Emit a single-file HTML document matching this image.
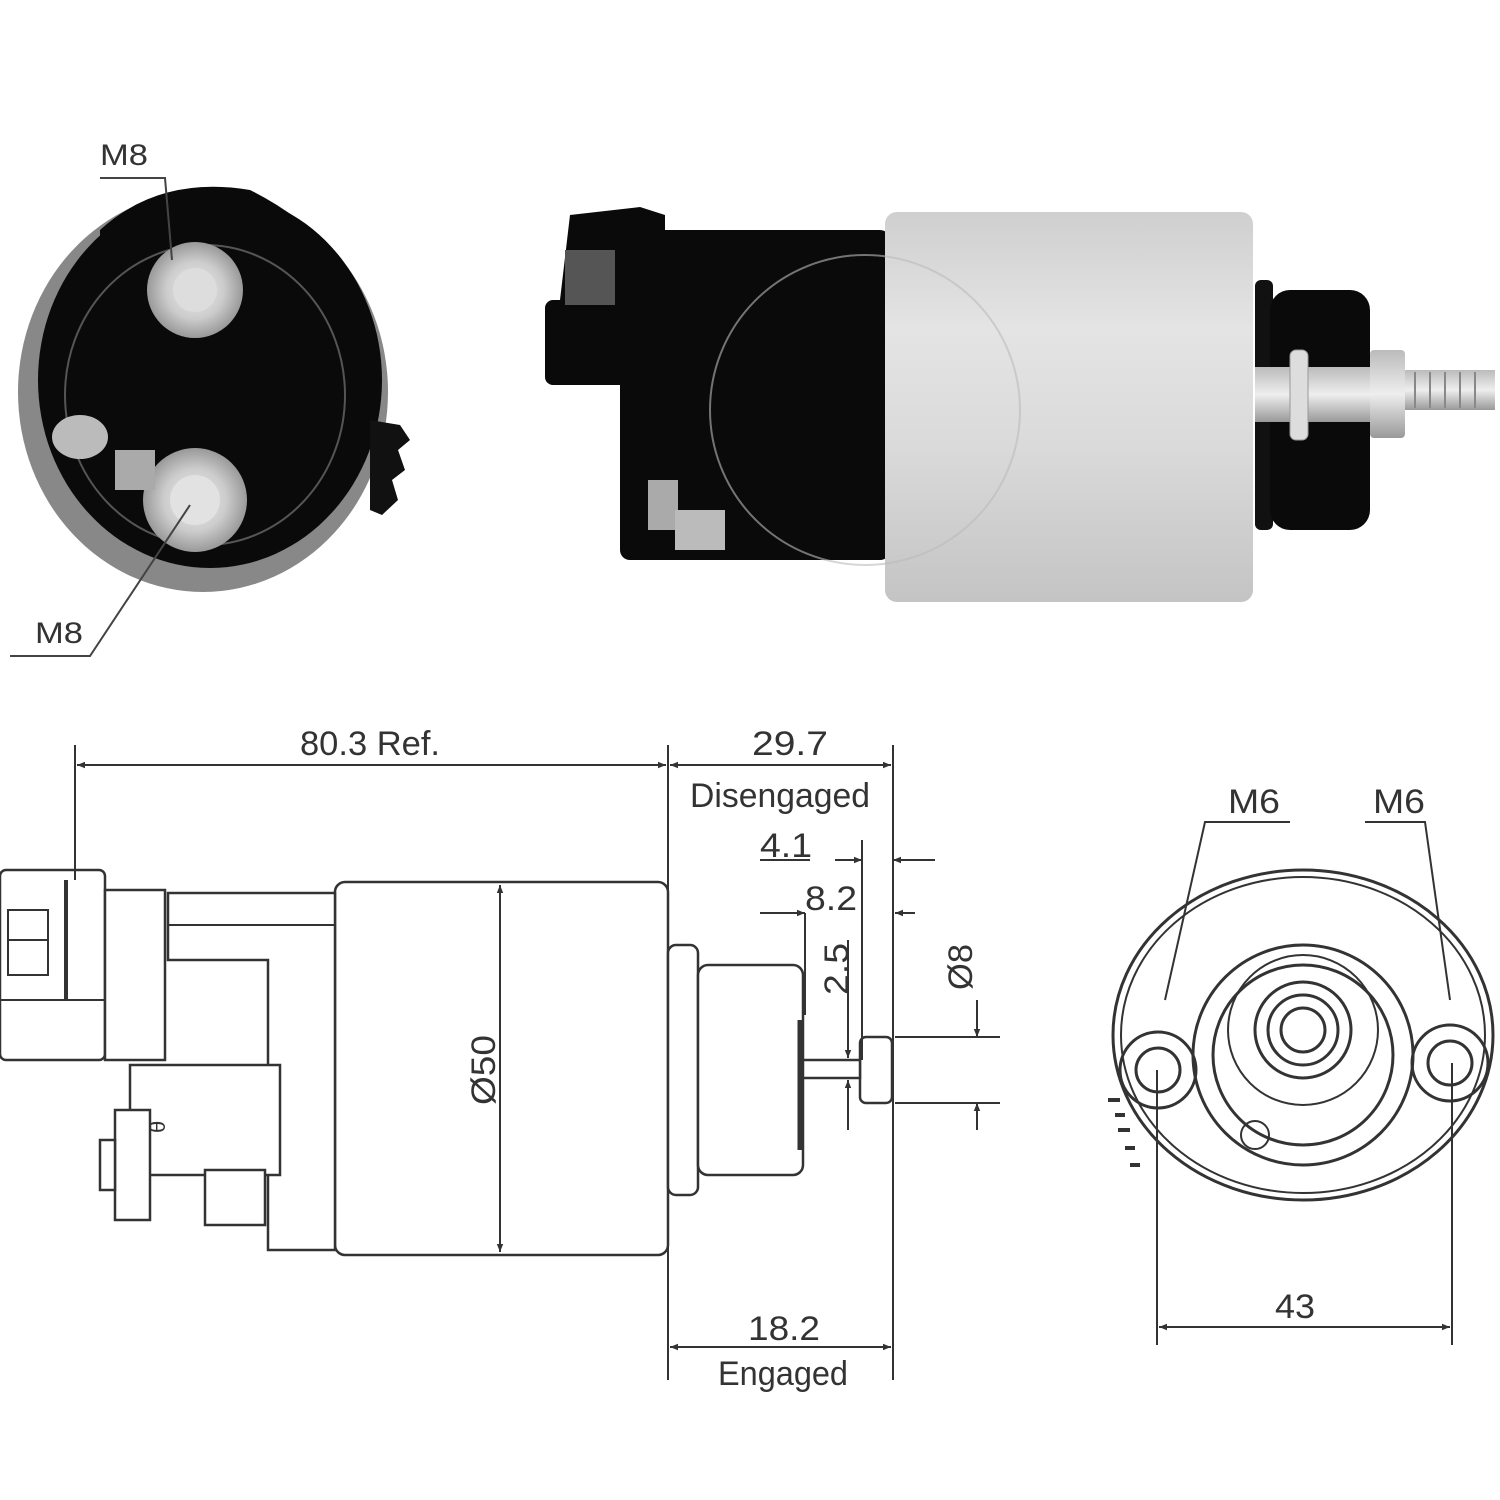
<!DOCTYPE html>
<html><head><meta charset="utf-8"><style>
html,body{margin:0;padding:0;background:#fff;width:1500px;height:1500px;overflow:hidden}
svg{display:block}
text{font-family:"Liberation Sans",sans-serif;fill:#333}
</style></head><body>
<svg width="1500" height="1500" viewBox="0 0 1500 1500" xmlns="http://www.w3.org/2000/svg">
<defs>
<linearGradient id="cyl" x1="0" y1="0" x2="0" y2="1">
<stop offset="0" stop-color="#cfcfcf"/><stop offset="0.3" stop-color="#e4e4e4"/><stop offset="0.6" stop-color="#dadada"/><stop offset="1" stop-color="#c4c4c4"/></linearGradient>
<linearGradient id="stud" x1="0" y1="0" x2="0" y2="1">
<stop offset="0" stop-color="#bbb"/><stop offset="0.5" stop-color="#eee"/><stop offset="1" stop-color="#999"/></linearGradient>
<radialGradient id="term"><stop offset="0" stop-color="#eee"/><stop offset="0.6" stop-color="#ccc"/><stop offset="1" stop-color="#999"/></radialGradient>
<marker id="ar" viewBox="0 0 10 10" refX="10" refY="5" markerWidth="14" markerHeight="8" orient="auto-start-reverse" markerUnits="userSpaceOnUse"><path d="M0,1 L10,5 L0,9 z" fill="#333"/></marker>
</defs>

<!-- Top left end view -->
<ellipse cx="203" cy="392" rx="185" ry="200" fill="#888"/>
<ellipse cx="210" cy="380" rx="172" ry="188" fill="#0a0a0a"/>
<path d="M100,230 Q160,175 250,190 Q300,215 330,250 L100,260z" fill="#0a0a0a"/>
<ellipse cx="205" cy="395" rx="140" ry="150" fill="none" stroke="#555" stroke-width="2"/>
<circle cx="195" cy="290" r="48" fill="url(#term)"/>
<circle cx="195" cy="290" r="22" fill="#ddd"/>
<circle cx="195" cy="500" r="52" fill="url(#term)"/>
<circle cx="195" cy="500" r="25" fill="#e2e2e2"/>
<ellipse cx="80" cy="437" rx="28" ry="22" fill="#bbb"/>
<rect x="115" y="450" width="40" height="40" fill="#aaa"/>
<path d="M370,420 L400,425 L410,440 L398,450 L405,470 L392,480 L398,500 L382,515 L370,510z" fill="#111"/>
<text x="100" y="165" font-size="30" textLength="48" lengthAdjust="spacingAndGlyphs">M8</text>
<polyline points="100,178 165,178 172,260" fill="none" stroke="#444" stroke-width="2"/>
<text x="35" y="643" font-size="30" textLength="48" lengthAdjust="spacingAndGlyphs">M8</text>
<polyline points="10,656 90,656 190,505" fill="none" stroke="#444" stroke-width="2"/>

<!-- Top right side view photo -->
<path d="M570,215 L640,207 L665,215 L665,300 L560,300z" fill="#0a0a0a"/>
<rect x="545" y="300" width="120" height="85" rx="8" fill="#0a0a0a"/>
<rect x="620" y="230" width="270" height="330" rx="10" fill="#0a0a0a"/>
<rect x="655" y="380" width="60" height="150" fill="#0a0a0a"/>
<rect x="565" y="250" width="50" height="55" fill="#555"/>
<rect x="648" y="480" width="30" height="50" fill="#aaa"/>
<rect x="675" y="510" width="50" height="40" fill="#bbb"/>
<rect x="885" y="212" width="368" height="390" rx="12" fill="url(#cyl)"/>
<rect x="1255" y="280" width="18" height="250" rx="6" fill="#111"/>
<rect x="1270" y="290" width="100" height="240" rx="20" fill="#0a0a0a"/>
<rect x="1255" y="367" width="120" height="55" fill="url(#stud)"/>
<rect x="1290" y="350" width="18" height="90" rx="6" fill="#ddd" stroke="#999"/>
<rect x="1370" y="350" width="35" height="88" rx="4" fill="url(#stud)"/>
<rect x="1405" y="370" width="90" height="40" fill="url(#stud)"/>
<g stroke="#888" stroke-width="2">
<line x1="1415" y1="372" x2="1415" y2="408"/><line x1="1430" y1="372" x2="1430" y2="408"/><line x1="1445" y1="372" x2="1445" y2="408"/><line x1="1460" y1="372" x2="1460" y2="408"/><line x1="1475" y1="372" x2="1475" y2="408"/></g>
<circle cx="865" cy="410" r="155" fill="none" stroke="#bbb" stroke-width="2" opacity="0.6"/>

<!-- Bottom side drawing -->
<g fill="#fff" stroke="#333" stroke-width="2.5">
<rect x="335" y="882" width="333" height="373" rx="10"/>
<rect x="0" y="870" width="105" height="190" rx="6"/>
<rect x="105" y="890" width="60" height="170"/>
<path d="M168,893 L335,893 L335,1250 L268,1250 L268,960 L168,960z"/>
<rect x="130" y="1065" width="150" height="110"/>
<rect x="115" y="1110" width="35" height="110"/>
<rect x="205" y="1170" width="60" height="55"/>
<rect x="100" y="1140" width="15" height="50"/>
<rect x="668" y="945" width="30" height="250" rx="8"/>
<rect x="698" y="965" width="105" height="210" rx="10"/>
<rect x="860" y="1037" width="32" height="66" rx="6"/>
<rect x="803" y="1060" width="57" height="18"/>
</g>
<rect x="8" y="910" width="40" height="30" fill="none" stroke="#333" stroke-width="2"/>
<rect x="8" y="940" width="40" height="35" fill="none" stroke="#333" stroke-width="2"/>
<line x1="0" y1="1000" x2="105" y2="1000" stroke="#333" stroke-width="2"/>
<line x1="66" y1="880" x2="66" y2="1000" stroke="#333" stroke-width="4"/>
<line x1="800" y1="1020" x2="800" y2="1150" stroke="#333" stroke-width="5"/>
<line x1="168" y1="925" x2="335" y2="925" stroke="#333" stroke-width="2"/>
<text x="158" y="1140" font-size="22" transform="rotate(-90 158 1133)">θ</text>

<!-- dimensions -->
<g stroke="#333" stroke-width="2" fill="none">
<line x1="75" y1="745" x2="75" y2="880"/>
<line x1="668" y1="745" x2="668" y2="1380"/>
<line x1="893" y1="745" x2="893" y2="1380"/>
<line x1="77" y1="765" x2="666" y2="765" marker-start="url(#ar)" marker-end="url(#ar)"/>
<line x1="670" y1="765" x2="891" y2="765" marker-start="url(#ar)" marker-end="url(#ar)"/>
<line x1="760" y1="860" x2="810" y2="860"/>
<line x1="835" y1="860" x2="862" y2="860" marker-end="url(#ar)"/>
<line x1="935" y1="860" x2="893" y2="860" marker-end="url(#ar)"/>
<line x1="862" y1="840" x2="862" y2="1060"/>
<line x1="760" y1="913" x2="805" y2="913" marker-end="url(#ar)"/>
<line x1="915" y1="913" x2="895" y2="913" marker-end="url(#ar)"/>
<line x1="805" y1="913" x2="805" y2="1015"/>
<line x1="848" y1="940" x2="848" y2="1058" marker-end="url(#ar)"/>
<line x1="848" y1="1130" x2="848" y2="1080" marker-end="url(#ar)"/>
<line x1="895" y1="1037" x2="1000" y2="1037"/>
<line x1="895" y1="1103" x2="1000" y2="1103"/>
<line x1="977" y1="1000" x2="977" y2="1037" marker-end="url(#ar)"/>
<line x1="977" y1="1130" x2="977" y2="1103" marker-end="url(#ar)"/>
<line x1="500" y1="885" x2="500" y2="1252" marker-start="url(#ar)" marker-end="url(#ar)"/>
<line x1="670" y1="1347" x2="891" y2="1347" marker-start="url(#ar)" marker-end="url(#ar)"/>
</g>
<g font-size="34">
<text x="300" y="755" textLength="140" lengthAdjust="spacingAndGlyphs">80.3 Ref.</text>
<text x="752" y="755" textLength="76" lengthAdjust="spacingAndGlyphs">29.7</text>
<text x="690" y="807" textLength="180" lengthAdjust="spacingAndGlyphs">Disengaged</text>
<text x="760" y="857" textLength="52" lengthAdjust="spacingAndGlyphs">4.1</text>
<text x="805" y="910" textLength="52" lengthAdjust="spacingAndGlyphs">8.2</text>
<text x="0" y="0" transform="translate(848,995) rotate(-90)" textLength="52" lengthAdjust="spacingAndGlyphs">2.5</text>
<text x="0" y="0" transform="translate(972,990) rotate(-90)" textLength="46" lengthAdjust="spacingAndGlyphs">Ø8</text>
<text x="0" y="0" transform="translate(495,1105) rotate(-90)" textLength="70" lengthAdjust="spacingAndGlyphs">Ø50</text>
<text x="748" y="1340" textLength="72" lengthAdjust="spacingAndGlyphs">18.2</text>
<text x="718" y="1385" textLength="130" lengthAdjust="spacingAndGlyphs">Engaged</text>
<text x="1228" y="813" textLength="52" lengthAdjust="spacingAndGlyphs">M6</text>
<text x="1373" y="813" textLength="52" lengthAdjust="spacingAndGlyphs">M6</text>
<text x="1275" y="1318" textLength="40" lengthAdjust="spacingAndGlyphs">43</text>
</g>

<!-- Right end view -->
<g fill="none" stroke="#333" stroke-width="3">
<ellipse cx="1303" cy="1035" rx="190" ry="165"/>
<ellipse cx="1303" cy="1035" rx="182" ry="158" stroke-width="2"/>
<circle cx="1303" cy="1055" r="110"/>
<circle cx="1303" cy="1055" r="90"/>
<circle cx="1303" cy="1030" r="75" stroke-width="2"/>
<circle cx="1303" cy="1030" r="48"/>
<circle cx="1303" cy="1030" r="35"/>
<circle cx="1303" cy="1030" r="22"/>
<circle cx="1158" cy="1070" r="38"/>
<circle cx="1158" cy="1070" r="22"/>
<circle cx="1450" cy="1063" r="38"/>
<circle cx="1450" cy="1063" r="22"/>
<circle cx="1255" cy="1135" r="14" stroke-width="2"/>
</g>
<g stroke="#333" stroke-width="2" fill="none">
<polyline points="1290,822 1205,822 1165,1000"/>
<polyline points="1365,822 1425,822 1450,1000"/>
<line x1="1157" y1="1070" x2="1157" y2="1345"/>
<line x1="1452" y1="1063" x2="1452" y2="1345"/>
<line x1="1159" y1="1327" x2="1450" y2="1327" marker-start="url(#ar)" marker-end="url(#ar)"/>
<path d="M1108,1100 L1120,1100 M1115,1115 L1125,1115 M1118,1130 L1130,1130 M1125,1148 L1135,1148 M1130,1165 L1140,1165" stroke-width="4"/>
</g>
</svg>
</body></html>
